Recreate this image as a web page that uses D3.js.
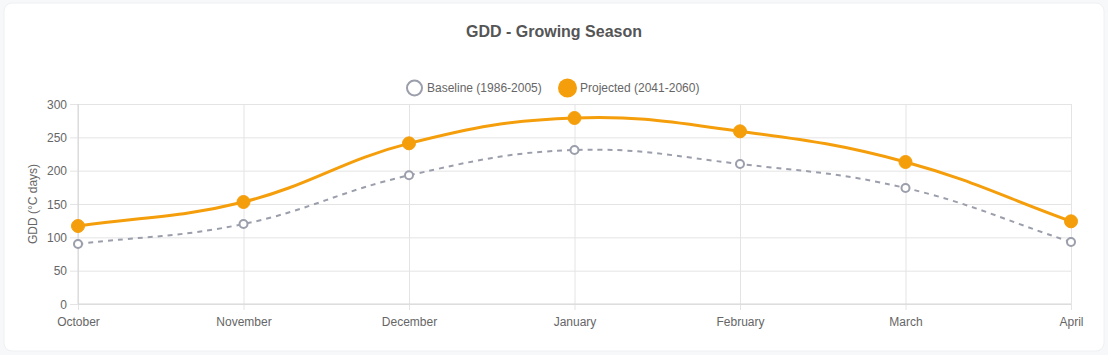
<!DOCTYPE html>
<html>
<head>
<meta charset="utf-8">
<script src="https://cdn.jsdelivr.net/npm/d3@7"></script>
<style>
  html, body { margin: 0; padding: 0; background: #f7f8fa; }
  body { width: 1108px; height: 355px; overflow: hidden; }
  svg { display: block; }
  text { font-family: "Liberation Sans", Arial, Helvetica, sans-serif; }
</style>
</head>
<body>
<svg id="chart" width="1108" height="355"></svg>
<script>
const months = ["October", "November", "December", "January", "February", "March", "April"];
const baseline = [90, 120, 193, 231, 210, 174, 93];
const projected = [117, 153, 241, 279, 259, 213, 124];
const yTicks = [0, 50, 100, 150, 200, 250, 300];
const seriesNames = ["Baseline (1986-2005)", "Projected (2041-2060)"];
const chartTitle = "GDD - Growing Season";
const yTitle = "GDD (°C days)";

const W = 1108, H = 355;
const plot = { left: 78, right: 1071, top: 104, bottom: 304 };
const svg = d3.select("#chart");

// card
svg.append("rect").attr("x", 4).attr("y", 3).attr("width", W - 8).attr("height", H - 7)
  .attr("rx", 8).attr("fill", "#ffffff").attr("stroke", "#eef0f2");

const x = d3.scalePoint().domain(months).range([plot.left, plot.right]);
const y = d3.scaleLinear().domain([0, 300]).range([plot.bottom, plot.top]);

const textColor = "#666666";
const gridColor = "#e4e4e4";

// grid (horizontal)
const yAxis = d3.axisLeft(y).tickValues(yTicks).tickSize(-(plot.right - plot.left)).tickPadding(0);
const gy = svg.append("g").attr("transform", `translate(${plot.left},0)`).call(yAxis);
gy.select(".domain").remove();
gy.selectAll(".tick line").attr("stroke", gridColor).attr("x1", -8);
gy.selectAll(".tick text").attr("fill", textColor).attr("font-size", 12).attr("x", -11).attr("dy", "0.34em");

// grid (vertical)
const xAxis = d3.axisBottom(x).tickSize(-(plot.bottom - plot.top)).tickPadding(0);
const gx = svg.append("g").attr("transform", `translate(0,${plot.bottom})`).call(xAxis);
gx.select(".domain").remove();
gx.selectAll(".tick line").attr("stroke", gridColor).attr("y1", 6);
gx.selectAll(".tick text").attr("fill", textColor).attr("font-size", 12).attr("y", 13).attr("dy", "0.71em");

// axis borders
svg.append("line").attr("x1", plot.left).attr("x2", plot.left).attr("y1", plot.top).attr("y2", plot.bottom)
  .attr("stroke", "#d6d6d6");
svg.append("line").attr("x1", plot.left).attr("x2", plot.right).attr("y1", plot.bottom).attr("y2", plot.bottom)
  .attr("stroke", "#d6d6d6");

// y title
svg.append("text").attr("transform", `translate(37,${(plot.top + plot.bottom) / 2}) rotate(-90)`)
  .attr("text-anchor", "middle").attr("fill", textColor).attr("font-size", 12).text(yTitle);

// title
svg.append("text").attr("x", W / 2).attr("y", 37).attr("text-anchor", "middle")
  .attr("fill", "#555555").attr("font-size", 16).attr("font-weight", "bold").text(chartTitle);

// Chart.js-like spline (tension 0.4)
function splinePath(vals) {
  const pts = vals.map((v, i) => [x(months[i]), y(v)]);
  const t = 0.4;
  const cps = pts.map((p, i) => {
    const prev = pts[i - 1] || p, next = pts[i + 1] || p;
    const d01 = Math.hypot(p[0] - prev[0], p[1] - prev[1]);
    const d12 = Math.hypot(next[0] - p[0], next[1] - p[1]);
    let s01 = d01 / (d01 + d12), s12 = d12 / (d01 + d12);
    if (isNaN(s01)) s01 = 0; if (isNaN(s12)) s12 = 0;
    const fa = t * s01, fb = t * s12;
    return {
      prev: [p[0] - fa * (next[0] - prev[0]), p[1] - fa * (next[1] - prev[1])],
      next: [p[0] + fb * (next[0] - prev[0]), p[1] + fb * (next[1] - prev[1])]
    };
  });
  const clampY = v => Math.max(plot.top, Math.min(plot.bottom, v));
  const path = d3.path();
  path.moveTo(pts[0][0], pts[0][1]);
  for (let i = 1; i < pts.length; i++) {
    const c1 = cps[i - 1].next, c2 = cps[i].prev;
    path.bezierCurveTo(c1[0], clampY(c1[1]), c2[0], clampY(c2[1]), pts[i][0], pts[i][1]);
  }
  return path.toString();
}

const grayC = "#9b9eab";
const orangeC = "#f59e0b";

svg.append("path").attr("d", splinePath(baseline)).attr("fill", "none")
  .attr("stroke", grayC).attr("stroke-width", 2).attr("stroke-dasharray", "5,5");
svg.append("path").attr("d", splinePath(projected)).attr("fill", "none")
  .attr("stroke", orangeC).attr("stroke-width", 3);

svg.append("g").selectAll("circle").data(baseline).join("circle")
  .attr("cx", (d, i) => x(months[i])).attr("cy", d => y(d)).attr("r", 4)
  .attr("fill", "#ffffff").attr("stroke", grayC).attr("stroke-width", 2);
svg.append("g").selectAll("circle").data(projected).join("circle")
  .attr("cx", (d, i) => x(months[i])).attr("cy", d => y(d)).attr("r", 6.5)
  .attr("fill", orangeC).attr("stroke", orangeC).attr("stroke-width", 1);

// legend
const lg = svg.append("g");
lg.append("circle").attr("cx", 414.5).attr("cy", 88).attr("r", 7.5)
  .attr("fill", "#ffffff").attr("stroke", grayC).attr("stroke-width", 2);
lg.append("text").attr("x", 427).attr("y", 88).attr("dy", "0.35em").attr("fill", textColor)
  .attr("font-size", 12).text(seriesNames[0]);
lg.append("circle").attr("cx", 567.5).attr("cy", 88).attr("r", 9.5).attr("fill", orangeC);
lg.append("text").attr("x", 580).attr("y", 88).attr("dy", "0.35em").attr("fill", textColor)
  .attr("font-size", 12).text(seriesNames[1]);
</script>
</body>
</html>
